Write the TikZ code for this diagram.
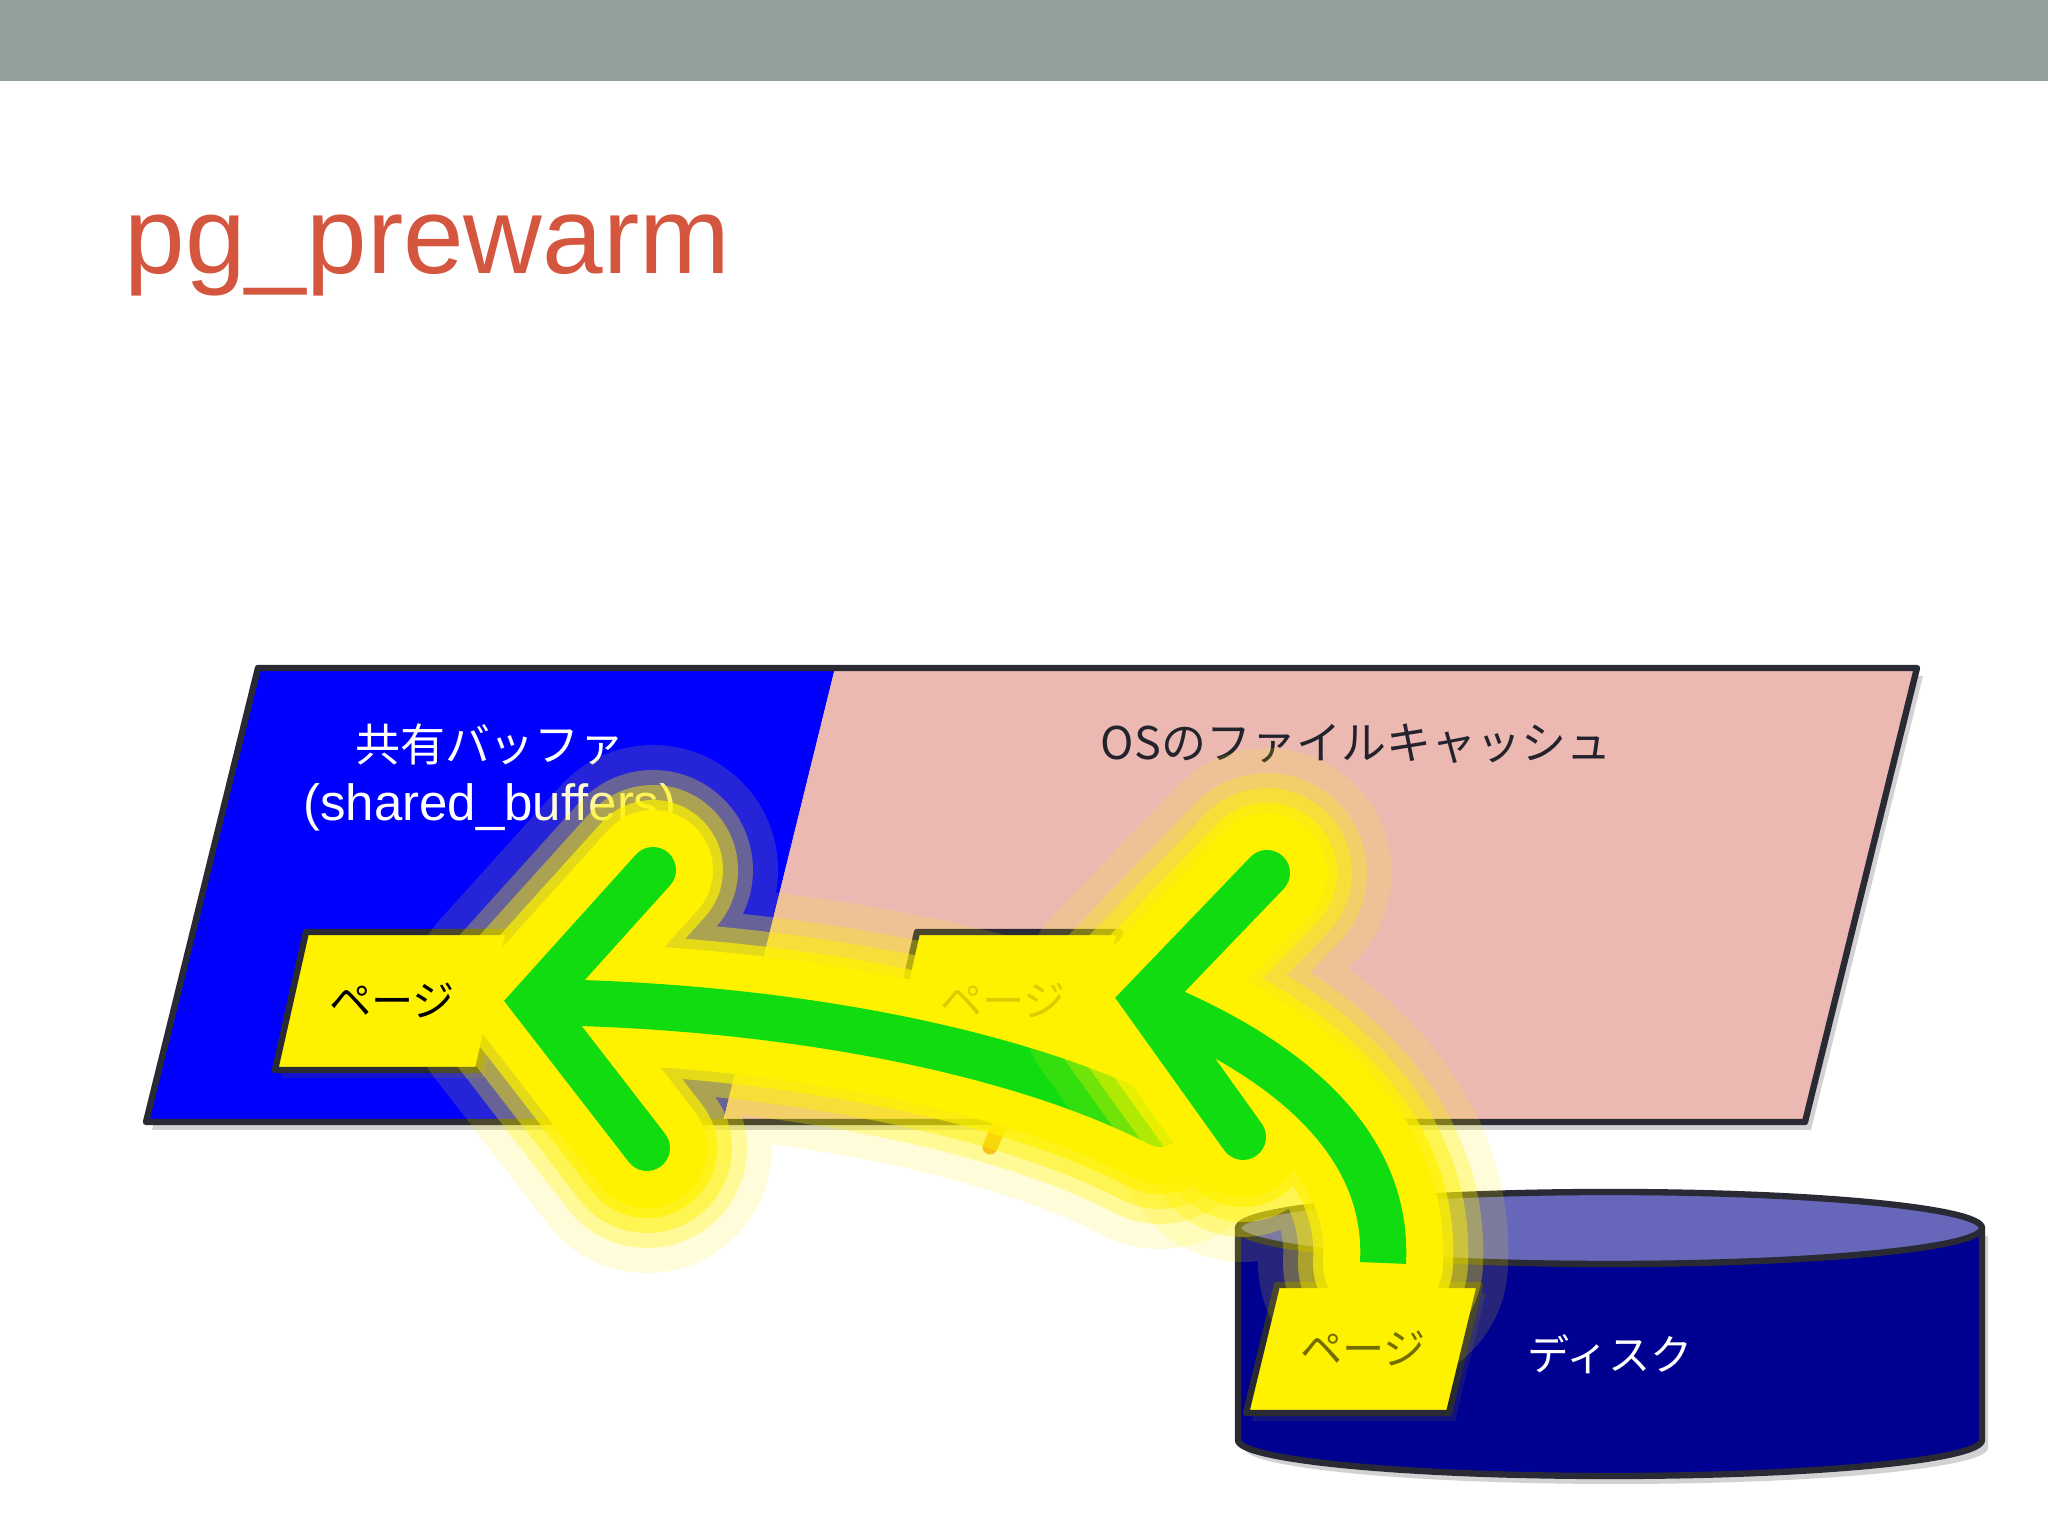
\documentclass[tikz,border=0pt]{standalone}
\usepackage{fontspec}
\setmainfont{Liberation Sans}
\newfontfamily\jp{Noto Sans CJK JP}
\definecolor{barcol}{RGB}{145,160,152}
\definecolor{titlecol}{RGB}{212,86,62}
\definecolor{bufcol}{RGB}{0,0,255}
\definecolor{cachecol}{RGB}{236,185,178}
\definecolor{edgecol}{RGB}{42,42,52}
\definecolor{diskcol}{RGB}{0,0,145}
\definecolor{disktop}{RGB}{102,102,187}
\definecolor{grn}{RGB}{16,220,16}
\definecolor{txtcol}{RGB}{35,35,45}
\definecolor{ambercol}{RGB}{240,165,35}
\begin{document}
\begin{tikzpicture}[line join=round,
  outl/.style={draw=edgecol,line width=1.8pt},
  shd/.style={fill=black!70,opacity=.25,transform canvas={xshift=.6mm,yshift=-.8mm}},
  lbl/.style={inner sep=0pt,font=\jp\fontsize{12.8}{14}\selectfont},
  pgtxt/.style={inner sep=0pt,font=\jp\fontsize{12}{13}\selectfont},
  glow/.style={yellow,line cap=round,line join=round},
  arr/.style={draw=grn,line width=.46cm}]
\useasboundingbox (0,0) rectangle (20.48,15.36);
\fill[white] (0,0) rectangle (20.48,15.36);
\fill[barcol] (0,14.55) rectangle (20.48,15.36);
\node[anchor=base west,inner sep=0pt,text=titlecol,font=\fontsize{31}{31}\selectfont] (ttl) at (1.24,12.62) {pg\_prewarm};
\coordinate (P1) at (2.58,8.68);
\coordinate (P2) at (19.17,8.68);
\coordinate (P3) at (18.05,4.14);
\coordinate (P4) at (1.46,4.14);
\coordinate (S1) at (8.35,8.68);
\coordinate (S2) at (7.23,4.14);
\fill[shd] (P1)--(P2)--(P3)--(P4)--cycle;
\fill[bufcol] (P1)--(S1)--(S2)--(P4)--cycle;
\fill[cachecol] (S1)--(P2)--(P3)--(S2)--cycle;
\draw[outl] (P1)--(P2)--(P3)--(P4)--cycle;
\fill[shd] (12.38,3.08)--(12.38,.96) arc[start angle=180,end angle=360,x radius=3.72,y radius=.36]--(19.82,3.08)--cycle;
\fill[diskcol] (12.38,3.08)--(12.38,.96) arc[start angle=180,end angle=360,x radius=3.72,y radius=.36]--(19.82,3.08)--cycle;
\draw[outl] (12.38,3.08)--(12.38,.96) arc[start angle=180,end angle=360,x radius=3.72,y radius=.36]--(19.82,3.08);
\draw[outl,fill=disktop] (16.1,3.08) ellipse[x radius=3.72,y radius=.36];
\foreach \x/\y/\h/\n in {2.75/4.66/1.38/L,8.86/4.66/1.38/M,12.46/1.23/1.28/D}{
  \fill[shd] (\x,\y)--++(2.03,0)--++(.31,\h)--++(-2.03,0)--cycle;
  \draw[outl,fill=yellow] (\x,\y)--++(2.03,0)--++(.31,\h)--++(-2.03,0)--cycle;
  \coordinate (pg\n) at (\x+1.17,\y+\h/2);
}
\node[lbl,text=white] (buf) at (4.90,7.92) {共有バッファ};
\node[inner sep=0pt,text=white,font=\fontsize{14.5}{16}\selectfont] (bufen) at (4.90,7.29) {(shared\_buffers)};
\node[lbl,text=txtcol] (cache) at (13.56,7.92) {OSのファイルキャッシュ};
\node[pgtxt,text=white] (disk) at (16.1,1.82) {ディスク};
\coordinate (e2) at (11.6,4.12);
\coordinate (t2) at (5.34,5.34);
\coordinate (u2) at (6.53,6.66);
\coordinate (l2) at (6.47,3.88);
\coordinate (e1) at (13.83,2.73);
\coordinate (t1) at (11.45,5.36);
\coordinate (u1) at (12.67,6.63);
\coordinate (l1) at (12.43,3.99);
\draw[ambercol,line width=.15cm,line cap=round] (9.90,3.89)--(10.03,4.19);
\foreach \w/\o in {2.5/.15,2.0/.3,1.7/.45,1.4/.7,1.2/1}
  \draw[glow,line width=\w cm,opacity=\o] (e2)..controls(10.3,4.80)and(8,5.31)..(t2) (u2)--(t2)--(l2);
\draw[arr,line cap=round] (e2)..controls(10.3,4.80)and(8,5.31)..(t2);
\draw[arr,line cap=round,line join=miter] (u2)--(t2)--(l2);
\foreach \w/\o in {2.5/.15,2.0/.3,1.7/.45,1.4/.7,1.2/1}
  \draw[glow,line width=\w cm,opacity=\o] (e1)..controls(13.9,4.0)and(12.75,4.84)..(t1) (u1)--(t1)--(l1);
\draw[arr] (e1)..controls(13.9,4.0)and(12.75,4.84)..(t1);
\draw[arr,line cap=round,line join=miter] (u1)--(t1)--(l1);
\node[pgtxt] (pageL) at (pgL) {ページ};
\node[pgtxt,opacity=.15] (pageM) at (pgM) {ページ};
\node[pgtxt,opacity=.55] (pageD) at (pgD) {ページ};
\end{tikzpicture}
\end{document}
